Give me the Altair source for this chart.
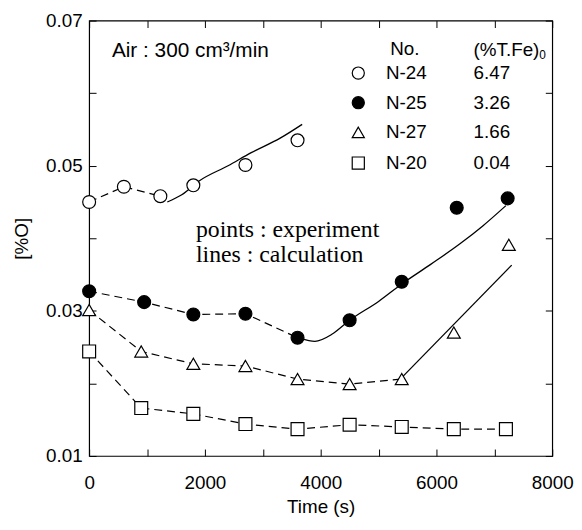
import altair as alt
import pandas as pd

# ---------------- data ----------------
series = ["N-24", "N-25", "N-27", "N-20"]
fe0 = ["6.47", "3.26", "1.66", "0.04"]

t_n24 = [0, 600, 1230, 1800, 2700, 3600]
o_n24 = [0.0450, 0.0471, 0.0458, 0.0473, 0.0501, 0.0535]
t_n25 = [0, 950, 1800, 2700, 3600, 4500, 5400, 6350, 7230]
o_n25 = [0.0327, 0.0312, 0.0295, 0.0296, 0.0263, 0.0287, 0.0340, 0.0442, 0.0455]
t_n27 = [0, 900, 1800, 2700, 3600, 4500, 5400, 6300, 7250]
o_n27 = [0.0301, 0.0244, 0.0227, 0.0224, 0.0206, 0.0199, 0.0206, 0.0270, 0.0391]
t_n20 = [0, 900, 1800, 2700, 3600, 4500, 5400, 6300, 7200]
o_n20 = [0.0244, 0.0166, 0.0158, 0.0144, 0.0137, 0.0143, 0.0140, 0.0137, 0.0137]
dashed_points = [3, 5, 7, 9]  # how many leading points are joined by the dashed line

calc_t_n24 = [1350, 1600, 1900, 2400, 2800, 3300, 3680]
calc_o_n24 = [0.0450, 0.0460, 0.0479, 0.0500, 0.0518, 0.0538, 0.0557]
calc_t_n25 = [3650, 3900, 4200, 4500, 5000, 5400, 5900, 6400, 6800, 7200]
calc_o_n25 = [0.0262, 0.0258, 0.0268, 0.0287, 0.0313, 0.0337, 0.0364, 0.0392, 0.0417, 0.0445]
calc_t_n27 = [5400, 7300]
calc_o_n27 = [0.0208, 0.0363]

x_ticks = [0, 1000, 2000, 3000, 4000, 5000, 6000, 7000, 8000]
y_ticks = [0.01, 0.02, 0.03, 0.04, 0.05, 0.06, 0.07]

# ---------------- tables ----------------
exp_t = [t_n24, t_n25, t_n27, t_n20]
exp_o = [o_n24, o_n25, o_n27, o_n20]
rows = []
for s, ts, os_, k in zip(series, exp_t, exp_o, dashed_points):
    for i, (t, o) in enumerate(zip(ts, os_)):
        rows.append({"series": s, "t": t, "o": o, "dashed": i < k})
exp_df = pd.DataFrame(rows)
dash_df = exp_df[exp_df["dashed"]]

calc_rows = []
for s, ts, os_ in zip(["N-24", "N-25", "N-27"],
                      [calc_t_n24, calc_t_n25, calc_t_n27],
                      [calc_o_n24, calc_o_n25, calc_o_n27]):
    for t, o in zip(ts, os_):
        calc_rows.append({"series": s, "t": t, "o": o})
calc_df = pd.DataFrame(calc_rows)

FONT = "Liberation Sans"
SERIF = "Liberation Serif"
W, H = 468, 440

xscale = alt.Scale(domain=[0, 8000], nice=False, zero=False)
yscale = alt.Scale(domain=[0.01, 0.07], nice=False, zero=False)

x_bottom = alt.Axis(values=x_ticks, format="d", orient="bottom",
                    labelExpr="datum.value % 2000 == 0 ? datum.label : ''",
                    title="Time (s)", domain=False, grid=False, offset=-7, tickSize=7,
                    labelPadding=18, titlePadding=5, labelFlush=False, labelOverlap=False)
y_left = alt.Axis(values=y_ticks, format=".2f", orient="left",
                  labelExpr="round(datum.value * 100) % 2 == 1 ? datum.label : ''",
                  title="[%O]", domain=False, grid=False, offset=-7, tickSize=7,
                  labelPadding=7, titlePadding=14, labelFlush=False, labelOverlap=False)
x_top = alt.Axis(values=x_ticks, orient="top", labels=False, title=None,
                 domain=False, grid=False, offset=-7, tickSize=7)
y_right = alt.Axis(values=y_ticks, orient="right", labels=False, title=None,
                   domain=False, grid=False, offset=-7, tickSize=7)

dashed = alt.Chart(dash_df).mark_line(color="black", strokeWidth=1.2, strokeDash=[8, 5]).encode(
    x=alt.X("t:Q", scale=xscale, axis=x_bottom),
    y=alt.Y("o:Q", scale=yscale, axis=y_left),
    detail="series:N",
)

solid = alt.Chart(calc_df).mark_line(color="black", strokeWidth=1.3, interpolate="monotone").encode(
    x=alt.X("t:Q", scale=xscale, axis=x_top),
    y=alt.Y("o:Q", scale=yscale, axis=y_right),
    detail="series:N",
)

shapes = ["circle", "circle", "triangle-up", "square"]
fills = ["white", "black", "white", "white"]
points = alt.Chart(exp_df).mark_point(filled=True, stroke="black", strokeWidth=1.2,
                                      size=170, opacity=1).encode(
    x=alt.X("t:Q", scale=xscale, axis=None),
    y=alt.Y("o:Q", scale=yscale, axis=None),
    shape=alt.Shape("series:N", scale=alt.Scale(domain=series, range=shapes), legend=None),
    fill=alt.Fill("series:N", scale=alt.Scale(domain=series, range=fills), legend=None),
)

one = pd.DataFrame({"a": [0]})


def text(txt, x, y, size=20, align="left", font=FONT):
    return alt.Chart(one).mark_text(text=txt, align=align, baseline="middle", font=font,
                                    fontSize=size, color="black").encode(
        x=alt.value(x), y=alt.value(y))


layers = [dashed, solid, points]
layers.append(text("Air : 300 cm³/min", 23, 31, size=21))
layers.append(text("No.", 319, 29, size=19, align="center"))
layers.append(text("(%T.Fe)", 455, 30, size=19, align="right"))
layers.append(text("0", 455, 35, size=12, align="left"))

row_y = [53, 83, 113, 144]
for s, f, shp, fl, y in zip(series, fe0, shapes, fills, row_y):
    layers.append(alt.Chart(one).mark_point(shape=shp, filled=True, fill=fl, stroke="black",
                                            strokeWidth=1.2, size=150, opacity=1).encode(
        x=alt.value(272), y=alt.value(y)))
    layers.append(text(s, 300, y, size=19))
    layers.append(text(f, 407, y, size=19, align="center"))

layers.append(text("points : experiment", 108, 212, size=24, font=SERIF))
layers.append(text("lines : calculation", 108, 237, size=24, font=SERIF))

chart = alt.layer(*layers).resolve_axis(x="independent", y="independent").properties(
    width=W, height=H,
    autosize=alt.AutoSizeParams(type="none"),
    padding={"left": 82, "top": 10, "right": 22, "bottom": 63},
).configure_view(stroke="black", strokeWidth=1.2).configure_axis(
    labelFont=FONT, labelFontSize=19, labelColor="black",
    titleFont=FONT, titleFontSize=19, titleFontWeight="normal", titleColor="black",
    tickColor="black", tickWidth=1,
)

chart.save("out.html", embed_options={"renderer": "svg", "actions": False})
